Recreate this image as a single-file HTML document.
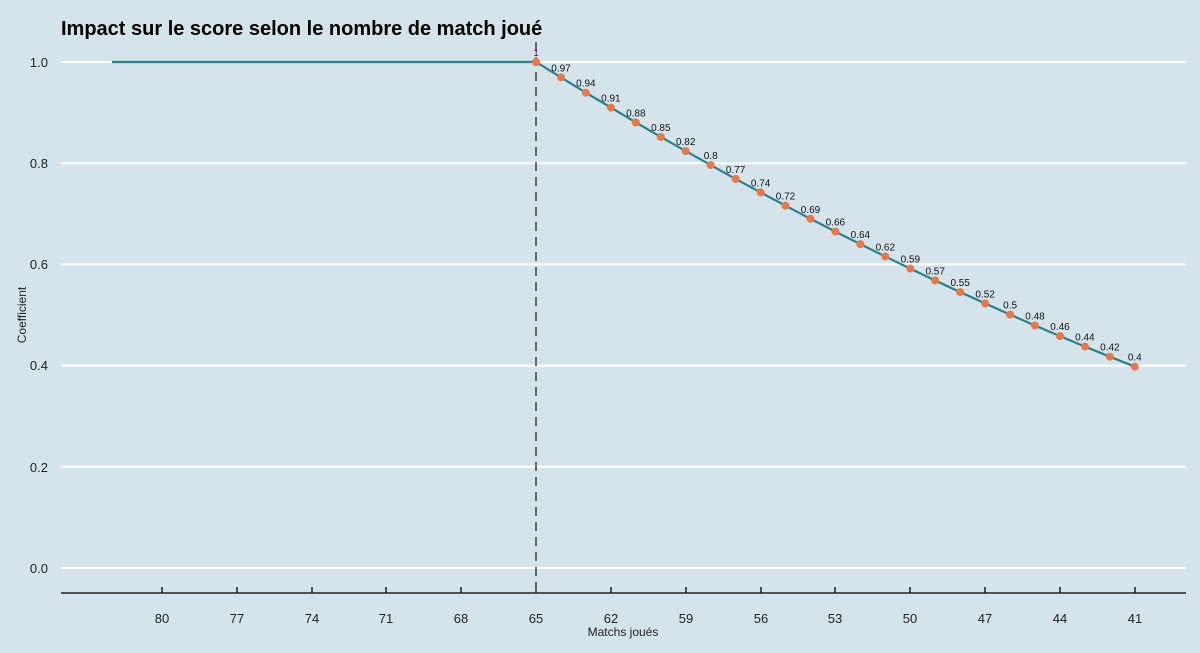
<!DOCTYPE html>
<html><head><meta charset="utf-8"><style>
html,body{margin:0;padding:0;background:#d5e4eb;}
svg{display:block;font-family:"Liberation Sans",Arial,sans-serif;}
</style></head><body>
<svg width="1200" height="653" viewBox="0 0 1200 653">
<rect width="1200" height="653" fill="#d5e4eb"/>
<text x="61" y="35" font-size="20" font-weight="bold" fill="#000">Impact sur le score selon le nombre de match joué</text>
<g stroke="#fff" stroke-width="2">
<line x1="61" x2="1186" y1="62" y2="62"/><line x1="61" x2="1186" y1="163.2" y2="163.2"/>
<line x1="61" x2="1186" y1="264.4" y2="264.4"/><line x1="61" x2="1186" y1="365.6" y2="365.6"/>
<line x1="61" x2="1186" y1="466.8" y2="466.8"/><line x1="61" x2="1186" y1="568" y2="568"/>
</g>
<g font-size="13" fill="#222" text-anchor="end">
<text x="48" y="67">1.0</text><text x="48" y="168">0.8</text><text x="48" y="269">0.6</text>
<text x="48" y="370">0.4</text><text x="48" y="472">0.2</text><text x="48" y="573">0.0</text>
</g>
<text transform="translate(26,315) rotate(-90)" font-size="12" text-anchor="middle" fill="#222">Coefficient</text>
<line x1="61" x2="1186" y1="593" y2="593" stroke="#000" stroke-width="1.3"/>
<g stroke="#000" stroke-width="1.3">
<line x1="162" x2="162" y1="587" y2="593"/><line x1="237" x2="237" y1="587" y2="593"/>
<line x1="312" x2="312" y1="587" y2="593"/><line x1="386" x2="386" y1="587" y2="593"/>
<line x1="461" x2="461" y1="587" y2="593"/><line x1="536" x2="536" y1="587" y2="593"/>
<line x1="611" x2="611" y1="587" y2="593"/><line x1="686" x2="686" y1="587" y2="593"/>
<line x1="761" x2="761" y1="587" y2="593"/><line x1="835" x2="835" y1="587" y2="593"/>
<line x1="910" x2="910" y1="587" y2="593"/><line x1="985" x2="985" y1="587" y2="593"/>
<line x1="1060" x2="1060" y1="587" y2="593"/><line x1="1135" x2="1135" y1="587" y2="593"/>
</g>
<g font-size="13" fill="#222" text-anchor="middle">
<text x="162" y="623">80</text><text x="237" y="623">77</text><text x="312" y="623">74</text>
<text x="386" y="623">71</text><text x="461" y="623">68</text><text x="536" y="623">65</text>
<text x="611" y="623">62</text><text x="686" y="623">59</text><text x="761" y="623">56</text>
<text x="835" y="623">53</text><text x="910" y="623">50</text><text x="985" y="623">47</text>
<text x="1060" y="623">44</text><text x="1135" y="623">41</text>
</g>
<text x="623" y="636" font-size="12" text-anchor="middle" fill="#222">Matchs joués</text>
<line x1="536" x2="536" y1="42" y2="593" stroke="#666" stroke-width="2" stroke-dasharray="9,6"/>
<polyline fill="none" stroke="#2a7f8c" stroke-width="2.2" points="112,62 536,62 561,77.4 585.9,92.7 610.9,107.6 635.8,122.4 660.8,136.9 685.7,151.1 710.7,165.1 735.6,178.9 760.6,192.4 785.5,205.7 810.5,218.8 835.4,231.6 860.4,244.2 885.3,256.5 910.3,268.6 935.2,280.5 960.2,292.1 985.1,303.4 1010.1,314.6 1035,325.5 1060,336.1 1084.9,346.6 1109.9,356.7 1134.8,366.7"/>
<g fill="#e8784a">
<circle cx="536" cy="62" r="4"/><circle cx="561" cy="77.4" r="4"/><circle cx="585.9" cy="92.7" r="4"/>
<circle cx="610.9" cy="107.6" r="4"/><circle cx="635.8" cy="122.4" r="4"/><circle cx="660.8" cy="136.9" r="4"/>
<circle cx="685.7" cy="151.1" r="4"/><circle cx="710.7" cy="165.1" r="4"/><circle cx="735.6" cy="178.9" r="4"/>
<circle cx="760.6" cy="192.4" r="4"/><circle cx="785.5" cy="205.7" r="4"/><circle cx="810.5" cy="218.8" r="4"/>
<circle cx="835.4" cy="231.6" r="4"/><circle cx="860.4" cy="244.2" r="4"/><circle cx="885.3" cy="256.5" r="4"/>
<circle cx="910.3" cy="268.6" r="4"/><circle cx="935.2" cy="280.5" r="4"/><circle cx="960.2" cy="292.1" r="4"/>
<circle cx="985.1" cy="303.4" r="4"/><circle cx="1010.1" cy="314.6" r="4"/><circle cx="1035" cy="325.5" r="4"/>
<circle cx="1060" cy="336.1" r="4"/><circle cx="1084.9" cy="346.6" r="4"/><circle cx="1109.9" cy="356.7" r="4"/>
<circle cx="1134.8" cy="366.7" r="4"/>
</g>
<g font-size="10" fill="#111" text-anchor="middle">
<text x="536" y="56" fill="#6a1060">1</text>
<text x="561" y="71.4">0.97</text><text x="585.9" y="86.7">0.94</text><text x="610.9" y="101.6">0.91</text>
<text x="635.8" y="116.4">0.88</text><text x="660.8" y="130.9">0.85</text><text x="685.7" y="145.1">0.82</text>
<text x="710.7" y="159.1">0.8</text><text x="735.6" y="172.9">0.77</text><text x="760.6" y="186.4">0.74</text>
<text x="785.5" y="199.7">0.72</text><text x="810.5" y="212.8">0.69</text><text x="835.4" y="225.6">0.66</text>
<text x="860.4" y="238.2">0.64</text><text x="885.3" y="250.5">0.62</text><text x="910.3" y="262.6">0.59</text>
<text x="935.2" y="274.5">0.57</text><text x="960.2" y="286.1">0.55</text><text x="985.1" y="297.4">0.52</text>
<text x="1010.1" y="308.6">0.5</text><text x="1035" y="319.5">0.48</text><text x="1060" y="330.1">0.46</text>
<text x="1084.9" y="340.6">0.44</text><text x="1109.9" y="350.7">0.42</text><text x="1134.8" y="360.7">0.4</text>
</g>
</svg>
</body></html>
